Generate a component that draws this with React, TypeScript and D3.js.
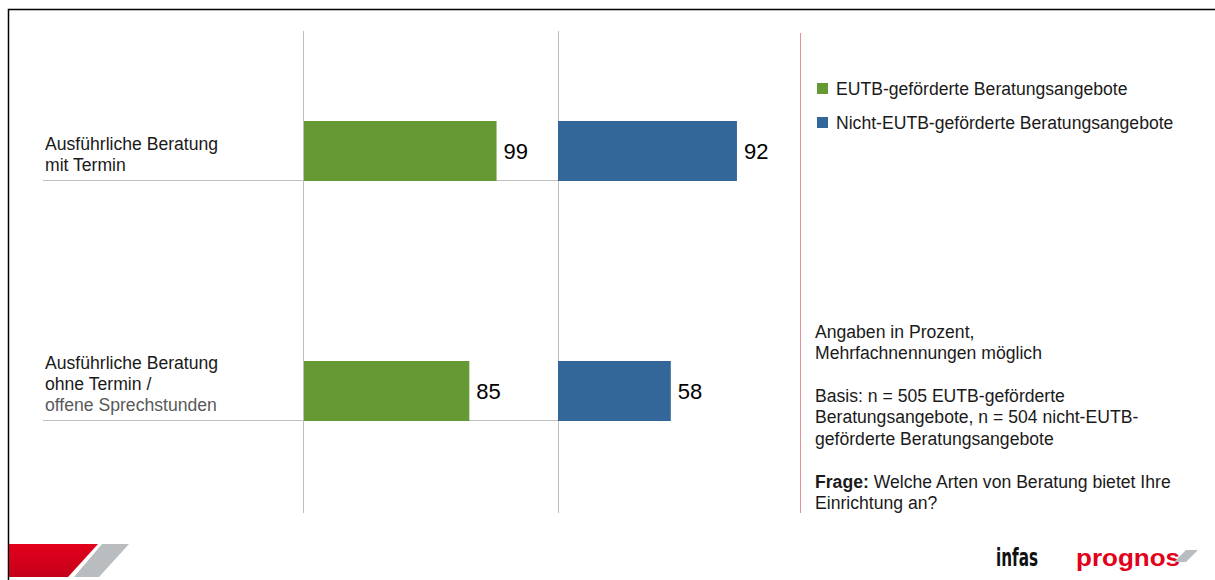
import * as d3 from "d3";

// categories and values
const categories = [
    ["Ausführliche Beratung", "mit Termin"],
    ["Ausführliche Beratung", "ohne Termin /", "offene Sprechstunden"],
];
const eutbValues = [99, 85];
const nichtEutbValues = [92, 58];
const seriesNames = ["EUTB-geförderte Beratungsangebote", "Nicht-EUTB-geförderte Beratungsangebote"];
const seriesColors = ["#669933", "#336699"];

const notes = [
    "Angaben in Prozent,",
    "Mehrfachnennungen möglich",
    "",
    "Basis: n = 505 EUTB-geförderte",
    "Beratungsangebote, n = 504 nicht-EUTB-",
    "geförderte Beratungsangebote",
];

const W = 1215;
const H = 580;
const font = "Liberation Sans, Arial, sans-serif";
const fs = 17.6;

export default function App() {
    const y = d3.scaleBand<number>().domain([0, 1]).range([31, 511]).paddingInner(0.75).paddingOuter(0.375);
    // each panel: 0..100 percent
    const x1 = d3.scaleLinear().domain([0, 100]).range([304, 304 + 194.5]);
    const x2 = d3.scaleLinear().domain([0, 100]).range([558, 558 + 194.5]);
    const bw = y.bandwidth();

    return <svg width={W} height={H} style={{position: "absolute", left: 0, top: 0, fontFamily: font}}>
        <rect width={W} height={H} fill="white"/>
        {/* slide frame */}
        <path d={`M8.5,${H} V9.5 H${W}`} fill="none" stroke="#000" strokeWidth={1.5}/>

        {/* grid / panel lines */}
        <line x1={303.5} x2={303.5} y1={31} y2={513} stroke="#bfbfbf"/>
        <line x1={558.5} x2={558.5} y1={31} y2={513} stroke="#bfbfbf"/>
        <line x1={800.5} x2={800.5} y1={33} y2={513} stroke="#f08c96"/>

        {categories.map((lines, i) => {
            const top = y(i)!;
            const base = top + bw;
            const lastY = base - 10.5;
            return <g key={i}>
                <line x1={43} x2={558} y1={base - 0.5} y2={base - 0.5} stroke="#bfbfbf"/>
                {lines.map((t, j) => (
                    <text key={j} x={45} y={lastY - (lines.length - 1 - j) * 21} fontSize={fs}
                          fill={j === 2 ? "#595959" : "#1a1a1a"}>{t}</text>
                ))}
                <rect x={x1(0)} y={top} width={x1(eutbValues[i]) - x1(0)} height={bw} fill={seriesColors[0]}/>
                <text x={x1(eutbValues[i]) + 7} y={top + bw / 2 + 8} fontSize={22} fill="#000">{eutbValues[i]}</text>
                <rect x={x2(0)} y={top} width={x2(nichtEutbValues[i]) - x2(0)} height={bw} fill={seriesColors[1]}/>
                <text x={x2(nichtEutbValues[i]) + 7} y={top + bw / 2 + 8} fontSize={22} fill="#000">{nichtEutbValues[i]}</text>
            </g>;
        })}

        {/* legend */}
        {seriesNames.map((s, i) => (
            <g key={s} transform={`translate(817,${83 + i * 34})`}>
                <rect width={11} height={11} fill={seriesColors[i]}/>
                <text x={19} y={12} fontSize={fs} fill="#1a1a1a">{s}</text>
            </g>
        ))}

        {/* notes */}
        <g fontSize={fs} fill="#1a1a1a">
            {notes.map((t, i) => <text key={i} x={815} y={337.5 + i * 21.4}>{t}</text>)}
            <text x={815} y={487.5}><tspan fontWeight="bold">Frage:</tspan> Welche Arten von Beratung bietet Ihre</text>
            <text x={815} y={509}>Einrichtung an?</text>
        </g>

        {/* footer logos */}
        <defs>
            <linearGradient id="redg" x1="0" x2="0" y1="0" y2="1">
                <stop offset="0" stopColor="#e3001b"/>
                <stop offset="1" stopColor="#c4001a"/>
            </linearGradient>
        </defs>
        <path d="M9,544 H98 L68,577 H9 Z" fill="url(#redg)"/>
        <path d="M102,544 H129 L99,577 H74 Z" fill="#b9bdc0"/>
        <text x={996} y={566} fontSize={24} fontWeight="bold" fill="#111" textLength={42} lengthAdjust="spacingAndGlyphs"
              fontFamily="DejaVu Sans Condensed, Liberation Sans Narrow, sans-serif">infas</text>
        <text x={1076} y={566} fontSize={24} fontWeight="bold" fill="#e2001a" textLength={104} lengthAdjust="spacingAndGlyphs">prognos</text>
        <path d="M1186,550 H1198 L1186,562 H1174 Z" fill="#b9bdc0"/>
    </svg>;
}
